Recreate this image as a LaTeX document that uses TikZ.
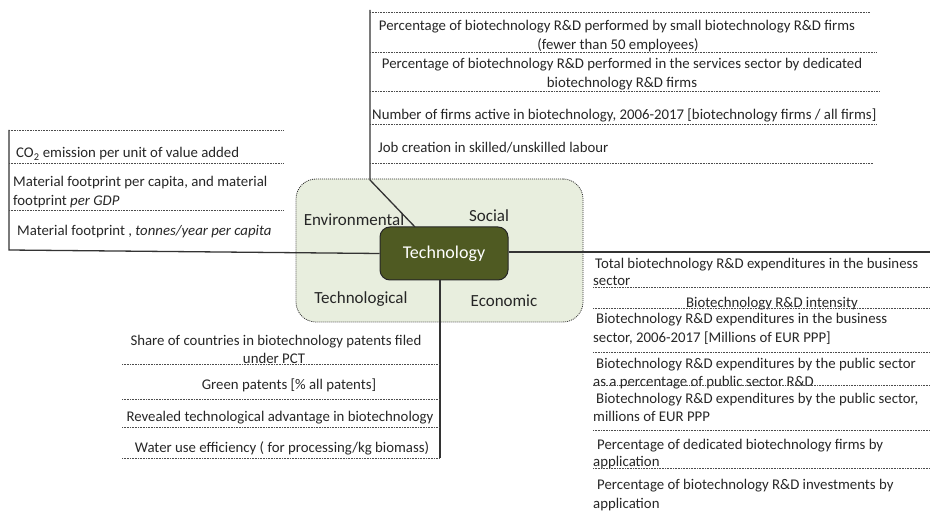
\documentclass[tikz,border=0pt]{standalone}
\usepackage{fontspec}
\setmainfont{Carlito}
\begin{document}
\begin{tikzpicture}[x=1pt,y=-1pt,
  txt/.style={inner sep=0pt,font=\fontsize{14.8}{17}\selectfont,text=black!85,yshift=-2pt},
  lft/.style={txt,anchor=base west},
  ctr/.style={txt,anchor=base},
  cat/.style={inner sep=0pt,anchor=base,font=\fontsize{17}{19}\selectfont,text=black!85,yshift=-1pt},
  conn/.style={draw=black!80,line width=1.3pt},
  sep/.style={draw=black!70,line width=0.6pt,dash pattern=on 0.8pt off 0.8pt}]
\useasboundingbox (0,0) rectangle (930,513);
% background panel
\node[draw=black!80,line width=0.8pt,dash pattern=on 1pt off 1pt,fill={rgb,255:red,232;green,238;blue,222},rounded corners=20pt,minimum width=287pt,minimum height=143pt,inner sep=0pt] (bg) at (439.5,250.5) {};
\node[cat] (env) at (354,225) {Environmental};
\node[cat] (soc) at (489,221) {Social};
\node[cat] (tecl) at (361,303) {Technological};
\node[cat] (eco) at (504,306) {Economic};
% centre node
\node[draw=black!85,line width=1pt,fill={rgb,255:red,79;green,90;blue,34},rounded corners=10pt,minimum width=128pt,minimum height=53pt,inner sep=0pt,text=white,font=\fontsize{18}{20}\selectfont] (tech) at (444,253.5) {Technology};
% coordinates
\coordinate (tb) at (370,180);
\coordinate (tt) at (370,10);
\coordinate (lt) at (9,130);
\coordinate (lb) at (9,250);
\coordinate (bb) at (440,458);
\coordinate (bt) at (440,280);
\coordinate (re) at (930,252);
% connectors
\draw[conn] (415,227) -- (tb) -- (tt);
\draw[conn] (tech.west) -- (lb) -- (lt);
\draw[conn] (bt) -- (bb);
\draw[conn] (tech.east |- re) -- (re);
% top branch
\draw[sep] (370,12) -- (870,12);
\node[ctr] (t1a) at (617,29) {Percentage of biotechnology R\&D performed by small biotechnology R\&D firms};
\node[ctr] (t1b) at (618,48) {(fewer than 50 employees)};
\draw[sep] (370,52) -- (877,52);
\node[ctr] (t2a) at (622,67) {Percentage of biotechnology R\&D performed in the services sector by dedicated};
\node[ctr] (t2b) at (622,86) {biotechnology R\&D firms};
\draw[sep] (370,91) -- (880,91);
\node[lft] (t3) at (372,118) {Number of firms active in biotechnology, 2006-2017 [biotechnology firms / all firms]};
\draw[sep] (370,124) -- (877,124);
\node[lft] (t4) at (378,151) {Job creation in skilled/unskilled labour};
\draw[sep] (370,163) -- (873,163);
% left branch
\draw[sep] (9,130) -- (283,130);
\node[lft] (l1) at (16,156) {CO\textsubscript{2} emission per unit of value added};
\draw[sep] (9,163) -- (283,163);
\node[lft] (l2a) at (13,185) {Material footprint per capita, and material};
\node[lft] (l2b) at (13,204) {footprint \textit{per GDP}};
\draw[sep] (9,210) -- (283,210);
\node[lft] (l3) at (17,234) {Material footprint , \textit{tonnes/year per capita}};
% bottom branch
\node[ctr] (b1a) at (276,343) {Share of countries in biotechnology patents filed};
\node[ctr] (b1b) at (274,361) {under PCT};
\draw[sep] (122,364) -- (440,364);
\node[ctr] (b2) at (289,387) {Green patents [\% all patents]};
\draw[sep] (122,399) -- (440,399);
\node[ctr] (b3) at (280,419) {Revealed technological advantage in biotechnology};
\draw[sep] (122,427) -- (440,427);
\node[ctr] (b4) at (282,450) {Water use efficiency ( for processing/kg biomass)};
\draw[sep] (122,458) -- (440,458);
% right branch
\node[lft] (r1a) at (595,267) {Total biotechnology R\&D expenditures in the business};
\node[lft] (r1b) at (593,284) {sector};
\draw[sep] (593,287) -- (930,287);
\node[ctr] (r2) at (772,306) {Biotechnology R\&D intensity};
\draw[sep] (593,308) -- (930,308);
\node[lft] (r3a) at (596,322) {Biotechnology R\&D expenditures in the business};
\node[lft] (r3b) at (593,341) {sector, 2006-2017 [Millions of EUR PPP]};
\draw[sep] (593,352) -- (930,352);
\node[lft] (r4a) at (596,366) {Biotechnology R\&D expenditures by the public sector};
\node[lft] (r4b) at (593,384) {as a percentage of public sector R\&D};
\draw[sep] (593,385) -- (930,385);
\node[lft] (r5a) at (596,401) {Biotechnology R\&D expenditures by the public sector,};
\node[lft] (r5b) at (593,419) {millions of EUR PPP};
\draw[sep] (593,430) -- (930,430);
\node[lft] (r6a) at (597,447) {Percentage of dedicated biotechnology firms by};
\node[lft] (r6b) at (593,464) {application};
\draw[sep] (593,468) -- (930,468);
\node[lft] (r7a) at (597,487) {Percentage of biotechnology R\&D investments by};
\node[lft] (r7b) at (593,506) {application};
\end{tikzpicture}
\end{document}
